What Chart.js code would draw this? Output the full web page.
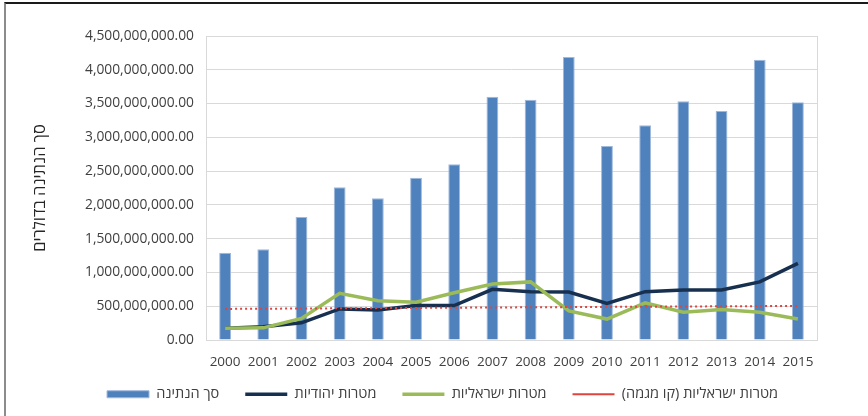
<!DOCTYPE html>
<html>
<head>
<meta charset="utf-8">
<script src="https://cdn.jsdelivr.net/npm/chart.js@4/dist/chart.umd.min.js"></script>
<style>
    html, body { margin: 0; padding: 0; background: #fff; }
    #wrap {
        position: relative;
        width: 868px;
        height: 416px;
        box-sizing: border-box;
    }
    #frame {
        position: absolute;
        left: 4px; top: 2px; right: 0; bottom: 0;
        border-top: 2px solid #1a1a1a;
        border-left: 2px solid #8c8c8c;
        pointer-events: none;
    }
    canvas { position: absolute; left: 0; top: 0; }
</style>
</head>
<body>
<div id="wrap">
    <canvas id="chart" width="868" height="416"></canvas>
    <div id="frame"></div>
</div>
<script>
const years = ["2000", "2001", "2002", "2003", "2004", "2005", "2006", "2007",
    "2008", "2009", "2010", "2011", "2012", "2013", "2014", "2015"];

// total giving (bars)
const totalGiving = [1290e6, 1345e6, 1820e6, 2260e6, 2100e6, 2400e6, 2600e6, 3600e6,
    3555e6, 4190e6, 2870e6, 3180e6, 3535e6, 3390e6, 4150e6, 3520e6];
// jewish causes
const jewishCauses = [175e6, 195e6, 255e6, 460e6, 445e6, 510e6, 510e6, 750e6,
    715e6, 710e6, 540e6, 715e6, 740e6, 740e6, 860e6, 1135e6];
// israeli causes
const israeliCauses = [175e6, 180e6, 320e6, 690e6, 580e6, 560e6, 700e6, 830e6,
    860e6, 430e6, 310e6, 550e6, 410e6, 450e6, 410e6, 310e6];
// trend line end points (straight line, gaps spanned)
const israeliTrend = [460e6, null, null, null, null, null, null, null,
    null, null, null, null, null, null, null, 505e6];

const FONT = "'Open Sans', 'Liberation Sans', 'DejaVu Sans', sans-serif";
const TEXT_COLOR = "#404040";
const GRID_COLOR = "#d9d9d9";

const plotBorder = {
    id: "plotBorder",
    beforeDatasetsDraw(chart) {
        const { ctx, chartArea: a } = chart;
        ctx.save();
        ctx.strokeStyle = GRID_COLOR;
        ctx.lineWidth = 1;
        ctx.strokeRect(Math.round(a.left) + 0.5, Math.round(a.top) + 0.5,
            Math.round(a.right - a.left), Math.round(a.bottom - a.top));
        ctx.restore();
    }
};

// legend: fixed height, nudged up and right to sit like the original
const legendTweak = {
    id: "legendTweak",
    afterInit(chart) {
        const legend = chart.legend;
        const origFit = legend.fit;
        legend.fit = function () {
            origFit.call(this);
            this.height = 40;
        };
    },
    afterLayout(chart) {
        const lg = chart.legend;
        lg.left += 19;
        lg.right += 19;
        lg.top -= 9;
        lg.bottom -= 9;
    }
};

new Chart(document.getElementById("chart"), {
    data: {
        labels: years,
        datasets: [
            {
                type: "bar",
                label: "סך הנתינה",
                data: totalGiving,
                backgroundColor: "#4f81bd",
                borderColor: "#9fb9dc",
                borderWidth: 1,
                barPercentage: 0.31,
                categoryPercentage: 1,
                pointStyle: "rect",
                order: 3
            },
            {
                type: "line",
                label: "מטרות יהודיות",
                data: jewishCauses,
                borderColor: "#17304f",
                backgroundColor: "#17304f",
                borderWidth: 3.5,
                pointRadius: 0,
                tension: 0,
                fill: false,
                pointStyle: "line",
                order: 2
            },
            {
                type: "line",
                label: "מטרות ישראליות",
                data: israeliCauses,
                borderColor: "#9bbb59",
                backgroundColor: "#9bbb59",
                borderWidth: 3.5,
                pointRadius: 0,
                tension: 0,
                fill: false,
                pointStyle: "line",
                order: 1
            },
            {
                type: "line",
                label: "מטרות ישראליות (קו מגמה)",
                data: israeliTrend,
                borderColor: "#e0443e",
                backgroundColor: "#e0443e",
                borderWidth: 2,
                borderDash: [2, 3],
                pointRadius: 0,
                spanGaps: true,
                fill: false,
                pointStyle: "line",
                order: 0
            }
        ]
    },
    options: {
        responsive: false,
        animation: false,
        layout: { padding: { left: 30, right: 51, top: 36, bottom: 6 } },
        plugins: {
            tooltip: { enabled: false },
            legend: {
                position: "bottom",
                labels: {
                    usePointStyle: true,
                    pointStyleWidth: 42,
                    boxWidth: 42,
                    boxHeight: 7,
                    padding: 26,
                    color: TEXT_COLOR,
                    font: { family: FONT, size: 14.5 },
                    sort: (a, b) => a.datasetIndex - b.datasetIndex
                }
            }
        },
        scales: {
            x: {
                offset: true,
                grid: { display: false },
                border: { display: false },
                ticks: {
                    color: TEXT_COLOR,
                    font: { family: FONT, size: 13.5 },
                    padding: 6,
                    maxRotation: 0,
                    autoSkip: false
                },
                afterFit: (scale) => { scale.height = 30; }
            },
            y: {
                min: 0,
                max: 4500000000,
                ticks: {
                    stepSize: 500000000,
                    color: TEXT_COLOR,
                    font: { family: FONT, size: 13.8 },
                    padding: 12,
                    callback: (v) => Number(v).toLocaleString("en-US",
                        { minimumFractionDigits: 2, maximumFractionDigits: 2 })
                },
                grid: { color: GRID_COLOR, drawTicks: false },
                border: { display: false },
                title: {
                    display: true,
                    text: "סך הנתינה בדולרים",
                    color: "#262626",
                    font: { family: FONT, size: 16.5 },
                    padding: { top: 0, bottom: 4 }
                },
                afterFit: (scale) => { scale.width = 176; }
            }
        }
    },
    plugins: [plotBorder, legendTweak]
});
</script>
</body>
</html>
